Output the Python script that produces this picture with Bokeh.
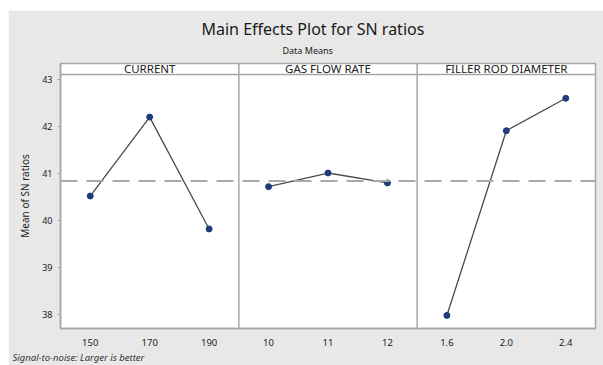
import numpy as np
from bokeh.plotting import figure
from bokeh.models import FixedTicker, Range1d, Span, Title
from bokeh.core.properties import value
from bokeh.embed import file_html
from bokeh.resources import INLINE

# ---- data ----
factors = ["CURRENT", "GAS FLOW RATE", "FILLER ROD DIAMETER"]
current_levels = ["150", "170", "190"]
current_sn = [40.52, 42.20, 39.82]
gas_levels = ["10", "11", "12"]
gas_sn = [40.72, 41.01, 40.80]
filler_levels = ["1.6", "2.0", "2.4"]
filler_sn = [37.98, 41.91, 42.60]
y_ticks = [38, 39, 40, 41, 42, 43]

title_text = "Main Effects Plot for SN ratios"
subtitle_text = "Data Means"
ylabel_text = "Mean of SN ratios"
footer_text = "Signal-to-noise: Larger is better"

levels = [current_levels, gas_levels, filler_levels]
series = [current_sn, gas_sn, filler_sn]
grand_mean = float(np.mean(current_sn + gas_sn + filler_sn))

FONT = "Noto Sans"
Y_LO, Y_HI = 37.702, 43.340
HDR_LO = 43.106

p = figure(width=595, height=355, output_backend="svg", toolbar_location=None,
           x_range=Range1d(-0.5, 8.5), y_range=Range1d(Y_LO, Y_HI),
           min_border_left=52, min_border_right=8, min_border_top=53, min_border_bottom=37)
p.title = None
p.margin = (10, 0, 0, 8)
p.background_fill_color = "white"
p.border_fill_color = "#e8e8e8"
p.outline_line_color = "#a6a6a6"
p.outline_line_width = 1.5
p.grid.visible = False

# axes
p.xaxis.ticker = FixedTicker(ticks=list(range(9)))
overrides = {}
for i, lv in enumerate(levels):
    for j, lab in enumerate(lv):
        overrides[3 * i + j] = lab
p.xaxis.major_label_overrides = overrides
p.xaxis.major_tick_line_color = None
p.xaxis.minor_tick_line_color = None
p.xaxis.axis_line_color = "#a6a6a6"
p.xaxis.axis_line_width = 1.5
p.xaxis.major_label_text_font = FONT
p.xaxis.major_label_text_font_size = "9.5px"
p.xaxis.major_label_text_color = "#222222"
p.xaxis.major_label_standoff = 4

p.yaxis.ticker = FixedTicker(ticks=y_ticks)
p.yaxis.axis_line_color = "#a6a6a6"
p.yaxis.axis_line_width = 1.5
p.yaxis.major_tick_line_color = "#a6a6a6"
p.yaxis.major_tick_in = 0
p.yaxis.major_tick_out = 3
p.yaxis.minor_tick_line_color = None
p.yaxis.major_label_text_font = FONT
p.yaxis.major_label_text_font_size = "9px"
p.yaxis.major_label_text_color = "#222222"
p.yaxis.major_label_standoff = 5
p.yaxis.axis_label = ylabel_text
p.yaxis.axis_label_text_font = FONT
p.yaxis.axis_label_text_font_size = "10px"
p.yaxis.axis_label_text_font_style = "normal"
p.yaxis.axis_label_text_color = "#222222"
p.yaxis.axis_label_standoff = 7

# header strip line and panel separators
p.add_layout(Span(location=HDR_LO, dimension="width", line_color="#a6a6a6", line_width=1.5))
for k in (2.5, 5.5):
    p.add_layout(Span(location=k, dimension="height", line_color="#a6a6a6", line_width=1.5))

# grand mean reference line
p.add_layout(Span(location=grand_mean, dimension="width", line_color="#a9a9a9",
                  line_width=2, line_dash="17 9"))

# header texts
p.text(x=[1, 4, 7], y=[(HDR_LO + Y_HI) / 2] * 3, text=factors,
       text_font=value(FONT), text_font_size="11.5px", text_color="#222222",
       text_align="center", text_baseline="middle")

# data lines and points
for i, (lv, vals) in enumerate(zip(levels, series)):
    xs = [3 * i + j for j in range(len(lv))]
    p.line(xs, vals, line_color="#4a4a4a", line_width=1.3)
    p.scatter(xs, vals, size=6, fill_color="#1f3b78", line_color="#1f3b78")

# titles (closest to frame added first)
p.add_layout(Title(text=subtitle_text, align="left", text_font=FONT,
                   text_font_size="9px", text_font_style="normal", text_color="#222222",
                   offset=222, standoff=14), "above")
p.add_layout(Title(text=title_text, align="left", text_font=FONT,
                   text_font_size="16px", text_font_style="normal", text_color="#1a1a1a",
                   offset=141, standoff=-10), "above")
p.add_layout(Title(text=footer_text, align="left", text_font=FONT,
                   text_font_size="9.5px", text_font_style="italic", text_color="#333333",
                   offset=-48, standoff=1), "below")

open("out.html", "w").write(file_html(p, INLINE))
